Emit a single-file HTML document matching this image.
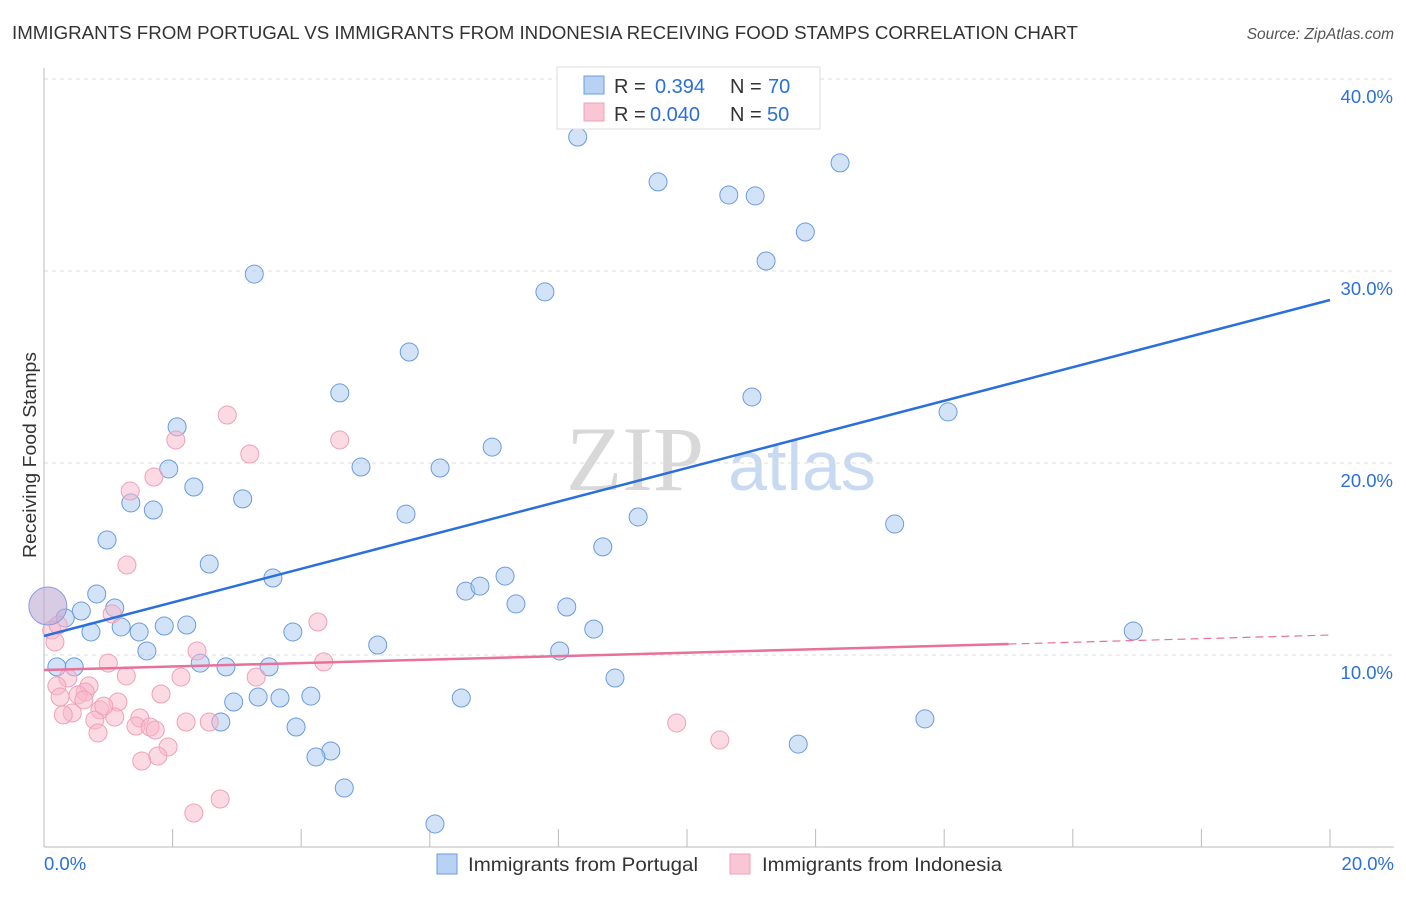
<!DOCTYPE html>
<html><head><meta charset="utf-8"><style>
body{margin:0;background:#fff;font-family:"Liberation Sans",sans-serif;}
</style></head><body>
<svg width="1406" height="892" viewBox="0 0 1406 892" xmlns="http://www.w3.org/2000/svg" id="chart">
<text x="12" y="39" font-size="18" fill="#333" textLength="1066" lengthAdjust="spacingAndGlyphs">IMMIGRANTS FROM PORTUGAL VS IMMIGRANTS FROM INDONESIA RECEIVING FOOD STAMPS CORRELATION CHART</text>
<text x="1394" y="39" font-size="15.5" fill="#555" font-style="italic" text-anchor="end">Source: ZipAtlas.com</text>
<g>
<text x="635" y="490" font-size="92" fill="#d8d8d8" font-family="Liberation Serif,serif" text-anchor="middle">ZIP</text>
<text x="802" y="490" font-size="70" fill="#c8daf2" text-anchor="middle">atlas</text>
</g>
<g id="grid"></g><g id="axes"></g><g id="marks"></g><g id="lines"></g>
<g>
<rect x="557" y="67" width="263" height="62" fill="#fff" stroke="#ddd"/>
<rect x="584" y="76" width="20" height="18" fill="#b8d2f4" stroke="#6a9be0"/>
<text x="614" y="93" font-size="20" fill="#333">R = </text><text x="655" y="93" font-size="20" fill="#2a6fdb">0.394</text>
<text x="730" y="93" font-size="20" fill="#333">N = </text><text x="768" y="93" font-size="20" fill="#2a6fdb">70</text>
<rect x="584" y="103" width="20" height="18" fill="#f9c6d6" stroke="#f0a0b8"/>
<text x="614" y="121" font-size="20" fill="#333">R = </text><text x="650" y="121" font-size="20" fill="#2a6fdb">0.040</text>
<text x="730" y="121" font-size="20" fill="#333">N = </text><text x="767" y="121" font-size="20" fill="#2a6fdb">50</text>
</g>
<g>
<rect x="437" y="854" width="20" height="20" fill="#b8d2f4" stroke="#6a9be0"/>
<text x="468" y="871" font-size="19.5" fill="#333" textLength="230" lengthAdjust="spacingAndGlyphs">Immigrants from Portugal</text>
<rect x="730" y="854" width="20" height="20" fill="#f9c6d6" stroke="#f0a0b8"/>
<text x="762" y="871" font-size="19.5" fill="#333" textLength="240" lengthAdjust="spacingAndGlyphs">Immigrants from Indonesia</text>
</g>
<text x="30" y="461" font-size="18" fill="#333" transform="rotate(-90 30 455)" text-anchor="middle" textLength="206" lengthAdjust="spacingAndGlyphs">Receiving Food Stamps</text>
</svg>
<script>
const yTicks=[10,20,30,40];
const yTickLabels=["10.0%","20.0%","30.0%","40.0%"];
const xTickLabels=["0.0%","20.0%"];
const blueX=[8.30,9.55,10.65,11.06,12.38,11.84,11.23,3.27,7.79,5.68,4.60,11.01,14.06,2.07,6.97,1.94,4.93,6.16,2.33,3.09,1.35,1.70,5.63,9.24,13.23,0.98,8.69,2.57,3.56,7.17,6.56,6.78,0.82,7.34,8.13,0.58,1.10,0.33,1.20,1.48,1.87,2.22,0.73,3.87,8.55,16.94,1.60,5.19,8.02,0.20,0.47,2.43,2.83,3.50,8.88,2.95,3.33,3.67,4.15,6.49,2.75,3.92,13.70,4.46,4.23,11.73,4.67,6.08];
const blueY=[36.98,34.64,33.96,33.91,35.63,32.03,30.52,29.84,28.91,25.78,23.65,23.44,22.66,21.88,20.83,19.69,19.79,19.74,18.75,18.13,17.92,17.55,17.34,17.19,16.82,15.99,15.63,14.74,14.01,14.11,13.33,13.59,13.18,12.66,12.50,12.29,12.45,11.93,11.46,11.20,11.51,11.56,11.20,11.20,11.35,11.25,10.21,10.52,10.21,9.38,9.38,9.58,9.38,9.38,8.80,7.55,7.81,7.76,7.86,7.76,6.51,6.25,6.67,5.00,4.69,5.36,3.07,1.20];
const pinkX=[2.85,4.60,2.05,3.20,1.71,1.34,1.29,1.06,4.26,0.12,0.17,2.38,1.00,4.35,2.13,3.30,0.37,1.28,0.20,0.70,0.64,0.53,0.25,0.87,1.15,1.82,1.10,0.44,0.79,0.30,0.93,1.49,1.43,1.65,1.73,2.21,2.57,0.84,1.93,1.77,1.52,9.84,10.51,2.74,2.33,0.62,0.22];
const pinkY=[22.50,21.20,21.20,20.47,19.27,18.54,14.69,12.14,11.72,11.30,10.68,10.21,9.58,9.64,8.85,8.85,8.80,8.91,8.39,8.39,8.07,7.92,7.81,7.14,7.55,7.97,6.77,6.98,6.61,6.88,7.34,6.72,6.30,6.25,6.09,6.51,6.51,5.94,5.21,4.74,4.48,6.46,5.57,2.50,1.77,7.66,11.56];
const bigBlue=[0.06,12.55];
const blueTrend=[[0,10.99],[20,28.49]];
const pinkTrend=[[0,9.22],[15,10.57],[20,11.04]];
const NS="http://www.w3.org/2000/svg";
const X=v=>44+v*64.3, Y=v=>847-v*19.2;
function mk(t,a,p){const e=document.createElementNS(NS,t);for(const k in a)e.setAttribute(k,a[k]);document.getElementById(p).appendChild(e);return e;}
yTicks.forEach((t,i)=>{
 const g=mk('line',{x1:44,x2:1394,y1:Y(t),y2:Y(t),stroke:'#ddd','stroke-dasharray':'4,4'},'grid');
 
 
 const l=mk('text',{x:1393,y:Y(t)+24,'font-size':18.5,fill:'#2a6fdb','text-anchor':'end'},'axes');l.textContent=yTickLabels[i];
 
 
});
const ax=mk('line',{x1:44,x2:44,y1:68,y2:847,stroke:'#bbb'},'axes');


const xa=mk('line',{x1:44,x2:1394,y1:847,y2:847,stroke:'#bbb'},'axes');


for(let i=1;i<=10;i++){mk('line',{x1:X(i*2),x2:X(i*2),y1:829,y2:847,stroke:'#bbb'},'axes');}
[[0,'start',44],[20,'end',1394]].forEach((d,i)=>{const t=mk('text',{x:d[2],y:870,'font-size':18.5,fill:'#2a6fdb','text-anchor':d[1]},'axes');t.textContent=xTickLabels[i];
 
 });
blueX.forEach((x,i)=>{const c=mk('circle',{cx:X(x),cy:Y(blueY[i]),r:9,fill:'rgba(168,199,240,0.5)',stroke:'#6a9be0','stroke-width':1},'marks');
 
 });
pinkX.forEach((x,i)=>{const c=mk('circle',{cx:X(x),cy:Y(pinkY[i]),r:9,fill:'rgba(248,182,202,0.5)',stroke:'#f0a0b8','stroke-width':1},'marks');
 
 });
const bb=mk('circle',{cx:X(bigBlue[0]),cy:Y(bigBlue[1]),r:19,fill:'rgba(190,170,210,0.6)',stroke:'#8a9be0'},'marks');


const bt=mk('line',{x1:X(blueTrend[0][0]),y1:Y(blueTrend[0][1]),x2:X(blueTrend[1][0]),y2:Y(blueTrend[1][1]),stroke:'#2a6fdb','stroke-width':2.5},'lines');


const pt=mk('line',{x1:X(pinkTrend[0][0]),y1:Y(pinkTrend[0][1]),x2:X(pinkTrend[1][0]),y2:Y(pinkTrend[1][1]),stroke:'#e8709a','stroke-width':2.5},'lines');


const pd=mk('line',{x1:X(pinkTrend[1][0]),y1:Y(pinkTrend[1][1]),x2:X(pinkTrend[2][0]),y2:Y(pinkTrend[2][1]),stroke:'#e8709a','stroke-width':1.2,'stroke-dasharray':'8,5'},'lines');


</script>
</body></html>
